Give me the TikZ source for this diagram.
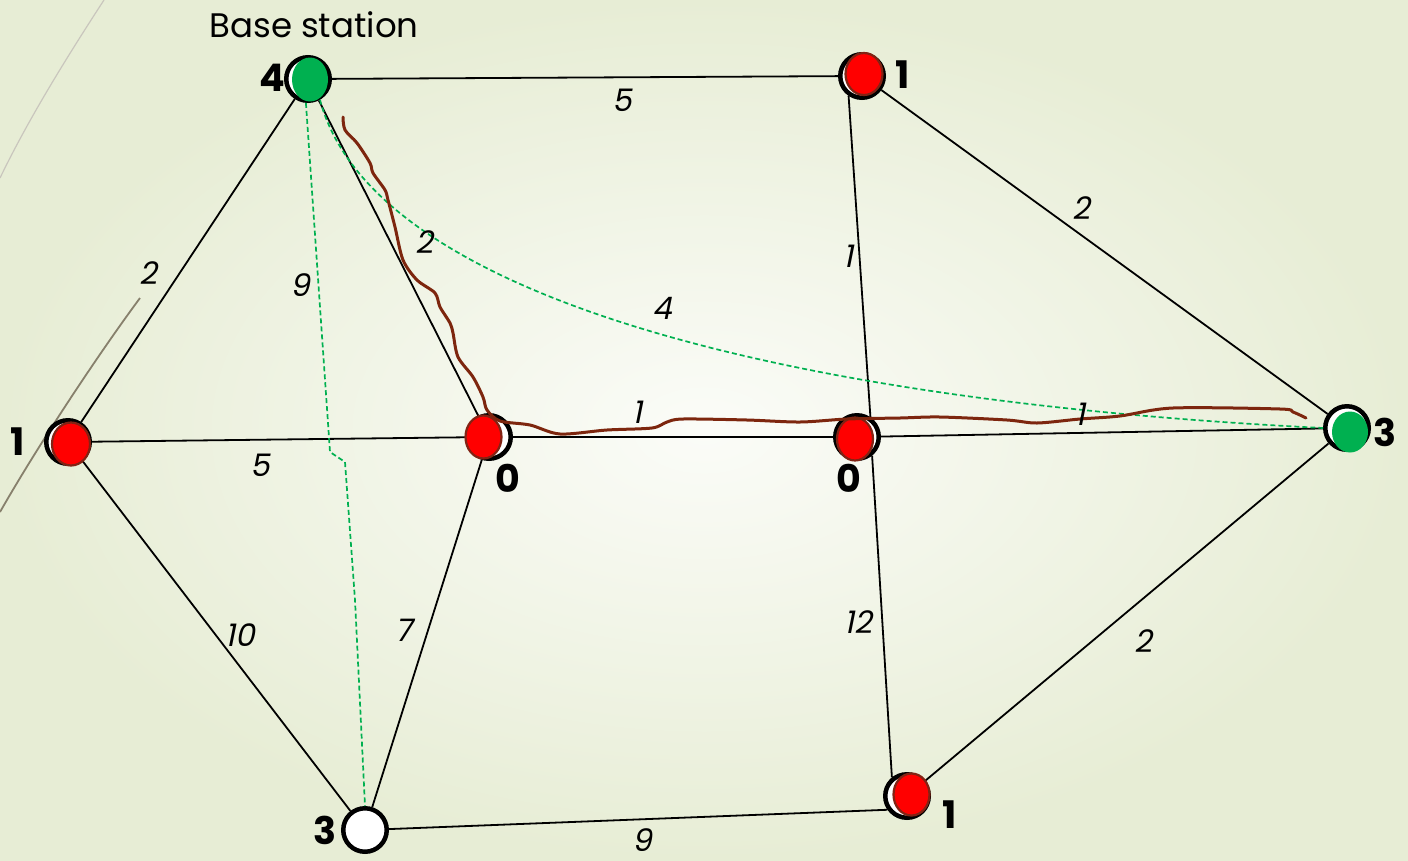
\documentclass[tikz,border=0pt]{standalone}
\usepackage{fontspec}
\setmainfont{Poppins}
\newfontfamily\slantfont[FakeSlant=0.2]{Poppins}
\definecolor{bgout}{RGB}{231,237,213}
\definecolor{bgin}{RGB}{251,252,248}
\definecolor{nodered}{RGB}{255,0,0}
\definecolor{rimred}{RGB}{130,35,20}
\definecolor{nodegreen}{RGB}{0,176,80}
\definecolor{pathbrown}{RGB}{125,38,14}
\definecolor{dashgreen}{RGB}{0,176,80}
\definecolor{decoline}{RGB}{135,128,108}
\begin{document}
\begin{tikzpicture}[x=1pt,y=-1pt,
  vtx/.style={circle, draw=black, line width=3pt, fill=white, minimum size=45pt, inner sep=0pt},
  ring/.style={draw=black, line width=3pt, fill=white},
  edge/.style={line width=1.8pt, black},
  gdash/.style={line width=1.7pt, dashgreen, dash pattern=on 5pt off 3pt},
  elab/.style={font=\slantfont\fontsize{31}{31}\selectfont, inner sep=0pt},
  nlab/.style={font=\bfseries\fontsize{38}{38}\selectfont, inner sep=0pt},
  redfill/.style={fill=nodered, draw=rimred, line width=2.2pt},
  greenfill/.style={fill=nodegreen},
  scribble/.style={line width=3pt, pathbrown, line cap=round, line join=round}]

% background
\shade[inner color=bgin, outer color=bgout] (0,0) rectangle (1408,860);
\useasboundingbox (0,0) rectangle (1408,860);
\draw[decoline!45, line width=1.2pt] (104,0) .. controls (65,60) and (28,120) .. (0,178);
\draw[decoline, line width=1.8pt] (140,298) .. controls (100,352) and (40,442) .. (0,512);

% vertices
\node[vtx] (A) at (308,79) {};
\node[vtx] (B) at (862,76) {};
\node[vtx] (C) at (68,442) {};
\node[vtx] (D) at (489,437) {};
\node[vtx] (E) at (857,437) {};
\node[vtx] (F) at (1347,428) {};
\node[vtx] (G) at (365,830) {};
\node[vtx] (H) at (907,796) {};

% edges
\draw[edge] (A) -- (B);
\draw[edge] (A) -- (C);
\draw[edge] (A) -- (D);
\draw[edge] (C) -- (D);
\draw[edge] (D) -- (E);
\draw[edge] (E) -- (F);
\draw[edge] (B.236) -- (E.56);
\draw[edge] (E.309) -- (H.129);
\draw[edge] (B) -- (F);
\draw[edge] (C) -- (G);
\draw[edge] (D) -- (G);
\draw[edge] (G) -- (H.215);
\draw[edge] (F) -- (H);

% redraw vertex rings over edge ends
\foreach \v in {A,B,C,D,E,F,G,H}{
  \filldraw[ring] (\v) circle [radius=21];
}

% fills
\fill[greenfill] (310,79.5) ellipse [x radius=18, y radius=22];
\fill[greenfill] (1350,432) ellipse [x radius=18, y radius=20.5];
\filldraw[redfill] (864,74) ellipse [x radius=18.5, y radius=21];
\filldraw[redfill] (71,444) ellipse [x radius=19, y radius=21.5];
\filldraw[redfill] (483.5,437) ellipse [x radius=18, y radius=21.5];
\filldraw[redfill] (855,439) ellipse [x radius=18, y radius=21.5];
\filldraw[redfill] (911.5,794.5) ellipse [x radius=18, y radius=21];

% green dashed connectors
\draw[gdash] (A.265) -- (330,452) -- (345,462) -- (355,600) -- (G.north);
\draw[gdash] (A.300) .. controls (370,290) and (760,400) .. (F.west);

% brown freehand path
\draw[scribble] plot[smooth, tension=0.5] coordinates {
 (343,117) (345,130) (357,143) (370,163) (373,173) (385,190) (388,200)
 (395,227) (403,260) (417,280) (435,293) (440,307) (450,323) (453,333)
 (458,357) (473,377) (483,397) (487,410) (500,421) (530,425) (560,434)
 (607,430) (652,428) (667,422) (683,419) (747,420) (800,422) (847,419)
 (900,418) (940,417) (1007,420) (1037,423) (1080,419) (1120,416)
 (1173,408) (1280,409) (1293,412) (1306,418)};

% edge labels
\node[elab] (lAB) at (622,100) {5};
\node[elab] (lAC) at (148,273) {2};
\node[elab] (lAG) at (300,285) {9};
\node[elab] (lAD) at (424,242) {2};
\node[elab] (lBE) at (848,256) {1};
\node[elab] (lBF) at (1081,208) {2};
\node[elab] (lAF) at (662,308) {4};
\node[elab] (lDE) at (637,412) {1};
\node[elab] (lEF) at (1080,414) {1};
\node[elab] (lCD) at (260,465) {5};
\node[elab] (lCG) at (240,635) {10};
\node[elab] (lDG) at (404,630) {7};
\node[elab] (lEH) at (858,622) {12};
\node[elab] (lFH) at (1143,641) {2};
\node[elab] (lGH) at (642,840) {9};

% vertex values
\node[nlab] (nA) at (272,78) {4};
\node[nlab] (nB) at (903,75) {1};
\node[nlab] (nC) at (18,442) {1};
\node[nlab] (nD) at (508,478) {0};
\node[nlab] (nE) at (849,478) {0};
\node[nlab] (nF) at (1385,432) {3};
\node[nlab] (nG) at (325,830) {3};
\node[nlab] (nH) at (950,815) {1};

\node[font=\fontsize{34}{34}\selectfont, inner sep=0pt] (bs) at (314,25) {Base station};
\end{tikzpicture}
\end{document}
